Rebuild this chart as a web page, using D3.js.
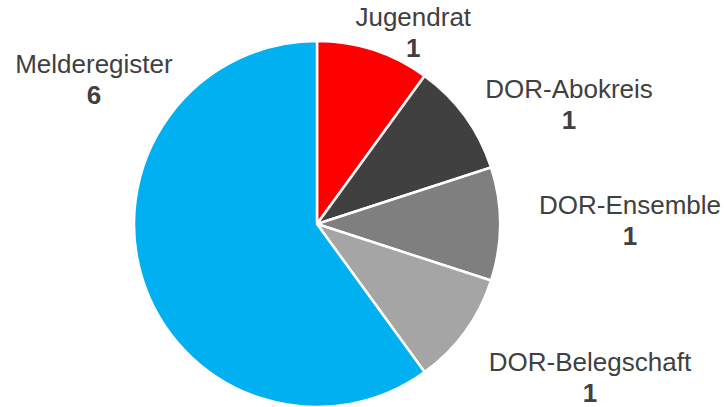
<!DOCTYPE html>
<html>
<head>
<meta charset="utf-8">
<script src="https://cdn.jsdelivr.net/npm/d3@7"></script>
<style>
  body { margin: 0; background: #fff; }
  text { font-family: "Liberation Sans", Arial, sans-serif; fill: #404040; }
</style>
</head>
<body>
<div id="chart"></div>
<script>
// Data: categories, values and slice colours
const categories = ["Jugendrat", "DOR-Abokreis", "DOR-Ensemble", "DOR-Belegschaft", "Melderegister"];
const values = [1, 1, 1, 1, 6];
const colors = ["#FF0000", "#404040", "#7F7F7F", "#A5A5A5", "#00B0F0"];

let width = 724,
    height = 407;

const cx = 317, cy = 224, radius = 183;

// label placement (polar: angle in degrees clockwise from top, distance from centre)
const labelLayout = [
  { angle: 26.6, dist: 215 },
  { angle: 64.6, dist: 279 },
  { angle: 89.3, dist: 313 },
  { angle: 119.3, dist: 313 },
  { angle: 303, dist: 266 }
];

const data = categories.map((c, i) => ({ name: c, value: values[i], color: colors[i] }));

const svg = d3.select("#chart")
  .append("svg")
  .attr("width", width)
  .attr("height", height)
  .attr("viewBox", [0, 0, width, height]);

const pie = d3.pie().sort(null).value(d => d.value);
const arc = d3.arc().innerRadius(0).outerRadius(radius);

const g = svg.append("g").attr("transform", `translate(${cx},${cy})`);

const arcs = pie(data);

g.selectAll("path")
  .data(arcs)
  .join("path")
  .attr("d", arc)
  .attr("fill", d => d.data.color)
  .attr("stroke", "#fff")
  .attr("stroke-width", 2.5)
  .attr("stroke-linejoin", "round");

// labels: name on first line, value (bold) below
const labels = g.selectAll("g.label")
  .data(arcs)
  .join("g")
  .attr("class", "label")
  .attr("transform", (d, i) => {
    const p = d3.pointRadial(labelLayout[i].angle * Math.PI / 180, labelLayout[i].dist);
    return `translate(${p[0]},${p[1]})`;
  });

labels.append("text")
  .attr("text-anchor", "middle")
  .attr("y", -6)
  .attr("font-size", 26)
  .text(d => d.data.name);

labels.append("text")
  .attr("text-anchor", "middle")
  .attr("y", 25)
  .attr("font-size", 26)
  .attr("font-weight", "bold")
  .text(d => d.data.value);
</script>
</body>
</html>
